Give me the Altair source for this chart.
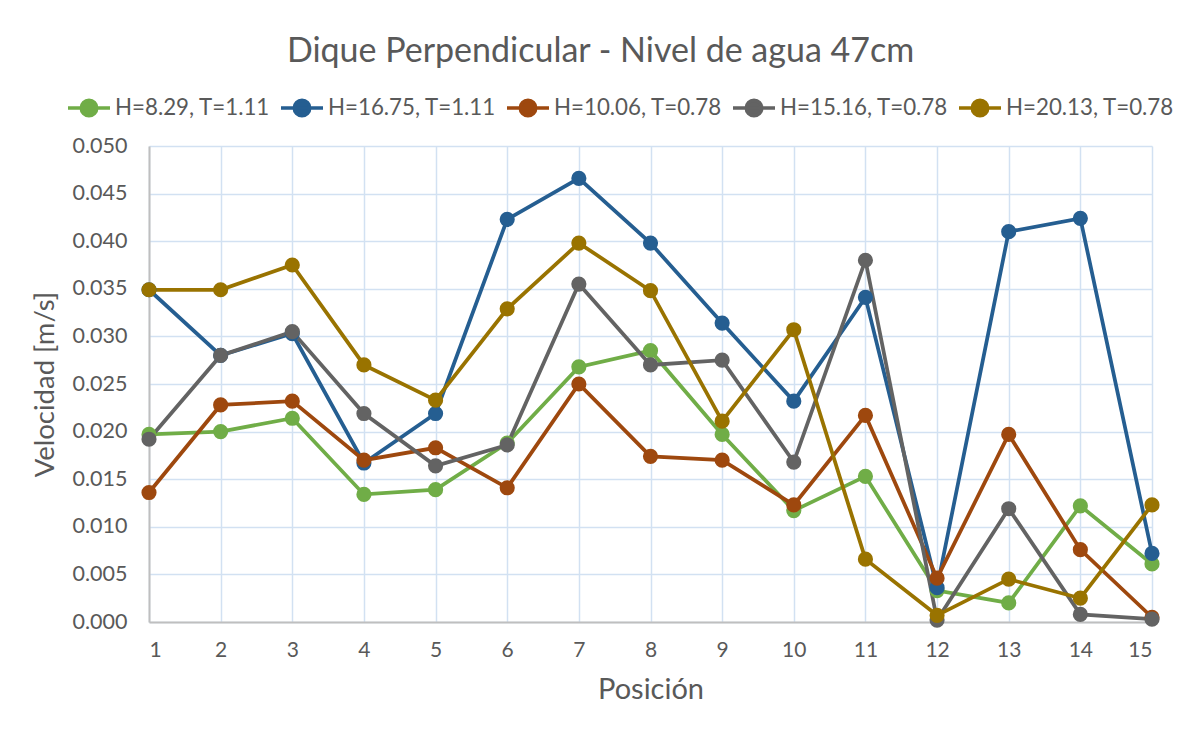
import altair as alt
import pandas as pd

positions = list(range(1, 15 + 1))
series_names = [
    "H=8.29, T=1.11",
    "H=16.75, T=1.11",
    "H=10.06, T=0.78",
    "H=15.16, T=0.78",
    "H=20.13, T=0.78",
]
colors = ["#70AD47", "#255E91", "#9E480E", "#636363", "#997300"]

v_h829 = [0.0197, 0.0200, 0.0214, 0.0134, 0.0139, 0.0188, 0.0268, 0.0285, 0.0197, 0.0117, 0.0153, 0.0033, 0.0020, 0.0122, 0.0061]
v_h1675 = [0.0349, 0.0280, 0.0303, 0.0167, 0.0219, 0.0423, 0.0466, 0.0398, 0.0314, 0.0232, 0.0341, 0.0036, 0.0410, 0.0424, 0.0072]
v_h1006 = [0.0136, 0.0228, 0.0232, 0.0170, 0.0183, 0.0141, 0.0250, 0.0174, 0.0170, 0.0123, 0.0217, 0.0046, 0.0197, 0.0076, 0.0005]
v_h1516 = [0.0192, 0.0280, 0.0305, 0.0219, 0.0164, 0.0186, 0.0355, 0.0270, 0.0275, 0.0168, 0.0380, 0.0002, 0.0119, 0.0008, 0.0003]
v_h2013 = [0.0349, 0.0349, 0.0375, 0.0270, 0.0233, 0.0329, 0.0398, 0.0348, 0.0211, 0.0307, 0.0066, 0.0007, 0.0045, 0.0025, 0.0123]

y_ticks = [0.000, 0.005, 0.010, 0.015, 0.020, 0.025, 0.030, 0.035, 0.040, 0.045, 0.050]

all_values = [v_h829, v_h1675, v_h1006, v_h1516, v_h2013]
rows = []
for name, vals in zip(series_names, all_values):
    for p, v in zip(positions, vals):
        rows.append({"Serie": name, "Posicion": p, "Velocidad": v})
df = pd.DataFrame(rows)

FONT = "Lato"
TXT = "#595959"

symbol_path = "M-1,0L1,0M0.37,0A0.37,0.37,0,1,1,-0.37,0A0.37,0.37,0,1,1,0.37,0Z"

chart = (
    alt.Chart(df)
    .mark_line(
        strokeWidth=3.75,
        point=alt.OverlayMarkDef(size=230, filled=True, opacity=1),
    )
    .encode(
        x=alt.X(
            "Posicion:Q",
            scale=alt.Scale(domain=[1, 15], nice=False, zero=False),
            axis=alt.Axis(
                title="Posición",
                values=positions,
                format="d",
                labelFontSize=21,
                labelPadding=17,
                titleFontSize=29,
                titlePadding=15,
                tickSize=0,
                gridColor="#D2E1F2",
                gridWidth=1.5,
                domainColor="#BFBFBF",
                domainWidth=2,
            ),
        ),
        y=alt.Y(
            "Velocidad:Q",
            scale=alt.Scale(domain=[0, 0.05], nice=False),
            axis=alt.Axis(
                title="Velocidad [m/s]",
                values=y_ticks,
                format=".3f",
                labelFontSize=21.5,
                labelPadding=22,
                titleFontSize=27.5,
                titlePadding=13,
                tickSize=0,
                gridColor="#D2E1F2",
                gridWidth=1.5,
                domainColor="#BFBFBF",
                domainWidth=2,
            ),
        ),
        color=alt.Color(
            "Serie:N",
            scale=alt.Scale(domain=series_names, range=colors),
            sort=series_names,
            legend=alt.Legend(
                title=None,
                orient="none",
                direction="horizontal",
                legendX=-83,
                legendY=-61,
                symbolType=symbol_path,
                symbolSize=1764,
                symbolStrokeWidth=3.5,
                labelFontSize=22.3,
                labelOffset=3,
                columnPadding=4,
                gridAlign="none",
                padding=0,
                labelLimit=400,
            ),
        ),
    )
    .properties(
        width=1003,
        height=476,
        title=alt.TitleParams(
            "Dique Perpendicular - Nivel de agua 47cm",
            fontSize=34,
            font=FONT,
            fontWeight="normal",
            color=TXT,
            anchor="middle",
            dx=-50,
            offset=16,
        ),
        autosize=alt.AutoSizeParams(type="none"),
        padding={"left": 141, "top": 138, "right": 30, "bottom": 104},
    )
    .configure(font=FONT)
    .configure_axis(
        labelColor=TXT,
        titleColor=TXT,
        labelFont=FONT,
        titleFont=FONT,
        titleFontWeight="normal",
    )
    .configure_legend(labelColor=TXT, labelFont=FONT)
    .configure_view(stroke=None)
)

chart.save("out.html", embed_options={"renderer": "svg", "actions": False})
